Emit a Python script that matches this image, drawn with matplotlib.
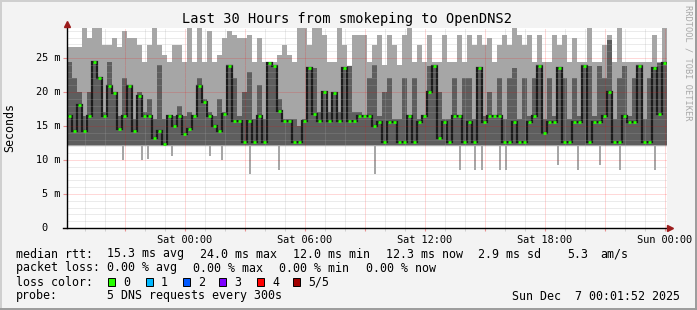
### SmokePing style latency chart - smokeping to OpenDNS2, last 30 hours

import numpy as np
import matplotlib
matplotlib.use('Agg')
import matplotlib.pyplot as plt
from matplotlib.patches import Rectangle

# steps of 15 min, hours relative to Sat 00:00
t_start = -5.9
step_h = 0.25

# smoke top (max of the 5 pings), ms
smoke_max = [26.6, 26.6, 26.6, 29.4, 27.9, 29.4, 29.4, 26.9, 26.9, 27.9, 26.6, 29.0, 27.9, 27.9, 26.9, 24.4, 26.9, 29.4, 26.9, 25.5,
             24.4, 26.9, 26.9, 24.4, 29.4, 24.4, 29.4, 24.4, 29.0, 24.4, 25.4, 27.9, 29.0, 28.4, 27.9, 27.9, 28.4, 24.4, 27.9, 24.4,
             24.4, 24.4, 25.4, 26.9, 25.4, 24.4, 29.4, 29.4, 26.9, 29.4, 29.4, 28.4, 24.4, 24.4, 29.4, 26.9, 23.8, 28.4, 28.4, 28.4,
             24.4, 26.9, 28.4, 24.0, 28.4, 26.9, 24.0, 28.4, 29.4, 24.4, 26.9, 24.4, 28.4, 24.4, 24.4, 28.4, 24.4, 24.4, 28.4, 24.4,
             28.4, 26.9, 28.4, 26.9, 27.9, 24.4, 26.9, 28.4, 26.9, 29.4, 28.4, 26.9, 28.4, 24.4, 28.4, 24.4, 24.4, 28.4, 26.9, 28.4,
             24.4, 27.9, 24.4, 24.4, 29.4, 24.4, 24.4, 26.9, 28.4, 24.4, 29.4, 24.4, 24.4, 24.4, 24.4, 24.4, 24.4, 28.4, 24.4, 29.4]
smoke_min = 12.0

# inner smoke (2nd..4th ping), ms
inner_top = [24.4, 22, 20, 16.4, 20, 24.4, 22, 17, 24.4, 20, 16.4, 22, 21, 16, 20, 17, 19, 16, 24, 16,
             16.4, 16.4, 18, 16.4, 17, 16.4, 22, 19, 17, 16.4, 19, 17, 23.8, 22, 16.4, 20, 23, 16, 21, 16,
             24.2, 23.8, 19, 16, 16, 16, 15, 16, 23.5, 23.5, 17, 20, 17, 19.9, 17, 23.5, 23.8, 17, 17, 16.4,
             22, 24, 16.4, 20, 22, 16, 16, 22, 16.4, 22, 16, 16.4, 23.8, 23.8, 20, 16, 16, 22, 16.4, 22,
             22, 16, 23.5, 16.4, 20, 16.4, 22, 16, 22, 23.5, 16, 22, 16.4, 22, 23.8, 16, 22, 16.4, 23.5, 22,
             16, 22, 16.4, 23.8, 23.8, 16.4, 23.8, 22, 27.6, 16, 22, 23.8, 16.4, 22, 23.8, 16, 22, 23.5, 24.2, 24.2]
inner_min = 12.2

# median rtt, ms
median = [16.4, 14.2, 18.1, 14.2, 16.4, 24.4, 22.0, 16.4, 20.9, 19.9, 14.6, 16.4, 20.9, 14.2, 19.4, 16.4, 16.4, 13.2, 14.2, 12.3,
          16.4, 15.0, 16.4, 13.8, 14.6, 16.4, 20.9, 18.6, 16.4, 15.0, 14.2, 16.8, 23.8, 15.8, 15.8, 12.6, 15.8, 12.6, 16.4, 12.6,
          24.2, 23.8, 17.2, 15.8, 15.8, 12.6, 12.6, 15.8, 23.5, 16.8, 15.8, 20.0, 15.8, 19.9, 15.8, 23.5, 15.8, 15.8, 16.4, 16.4,
          16.4, 15.0, 15.6, 12.6, 15.6, 15.6, 12.6, 12.6, 16.4, 12.6, 15.6, 16.4, 20.0, 23.8, 13.2, 15.6, 12.6, 16.4, 16.4, 12.6,
          15.6, 12.6, 23.5, 15.6, 16.4, 16.4, 16.4, 12.6, 12.6, 15.6, 12.6, 12.6, 15.6, 16.4, 23.8, 14.0, 15.6, 15.6, 23.5, 12.6,
          12.6, 15.6, 15.6, 23.8, 12.6, 15.6, 15.6, 16.4, 20.0, 12.6, 12.6, 16.4, 15.6, 15.6, 23.8, 12.6, 12.6, 23.5, 16.8, 24.2]

# short single pings below the smoke floor
dip_hours = [-3.1, -2.15, -1.85, -0.65, 1.25, 1.85, 3.25, 4.7, 9.5, 13.75, 14.5, 14.85, 15.75, 16.05, 18.65, 19.65, 20.75, 21.75, 23.5]
dip_ms = [10.0, 10.0, 10.2, 10.6, 10.6, 10.0, 8.0, 8.5, 8.0, 8.5, 8.5, 8.5, 8.5, 8.5, 9.3, 8.5, 9.2, 8.5, 8.6]

x_labels = ['Sat 00:00', 'Sat 06:00', 'Sat 12:00', 'Sat 18:00', 'Sun 00:00']
x_label_hours = [0, 6, 12, 18, 24]
y_ticks = [0, 5, 10, 15, 20, 25]
y_labels = ['0', '5 m', '10 m', '15 m', '20 m', '25 m']

loss_names = ['0', '1', '2', '3', '4', '5/5']
loss_colors = ['#26ff00', '#00b8ff', '#0059ff', '#7e00ff', '#ff0000', '#a10000']

W, H = 697, 310
mono = 'DejaVu Sans Mono'

def fx(px):
    return px / W

def fy(py):
    return 1 - py / H

fig = plt.figure(figsize=(W / 100, H / 100), dpi=100)
fig.patch.set_facecolor('#f3f3f3')
ax = fig.add_axes([fx(67), fy(228), 600 / W, 200 / H])
ax.set_facecolor('white')

edges = t_start + step_h * np.arange(len(median) + 1)
ax.stairs(smoke_max, edges, baseline=smoke_min, fill=True, color='#a6a6a6', lw=0, zorder=1)
ax.bar(dip_hours, np.array(smoke_min) - np.array(dip_ms), bottom=dip_ms, width=0.14,
       color='#a6a6a6', lw=0, zorder=1)
ax.stairs(inner_top, edges, baseline=inner_min, fill=True, color='#5e5e5e', lw=0, zorder=1.1)
ax.stairs(median, edges, baseline=None, color='#1c1c1c', lw=1.6, zorder=2)
ax.hlines(median, edges[:-1] + 0.05, edges[1:] - 0.05, color=loss_colors[0], lw=2, zorder=3)

ax.set_xlim(t_start, edges[-1])
ax.set_ylim(0, 200 / 6.8)
for s in ax.spines.values():
    s.set_visible(False)

# grid (rrdtool puts it over the graph)
ax.set_xticks(np.arange(-5, 25, 1), minor=True)
ax.set_yticks(np.arange(1, 30, 1), minor=True)
ax.set_xticks(np.arange(-3, 25, 3))
ax.set_xticklabels([x_labels[x_label_hours.index(h)] if h in x_label_hours else '' for h in range(-3, 25, 3)],
                   family=mono, fontsize=7.4)
ax.set_yticks(y_ticks)
ax.set_yticklabels([])
ax.set_axisbelow(False)
ax.grid(which='minor', color='#a8a8a8', lw=0.72, ls=(0, (1, 1)), alpha=0.45)
ax.grid(which='major', color='#ff0000', lw=0.72, ls=(0, (1, 1)), alpha=0.3)
ax.tick_params(axis='x', which='major', length=2, color='#e89090', pad=3)
ax.tick_params(axis='x', which='minor', length=2, color='#c8c8c8')
ax.tick_params(axis='y', which='major', length=3, color='#e89090')
ax.tick_params(axis='y', which='minor', length=0)

for v, lab in zip(y_ticks, y_labels):
    xoff = -7 / 600 if lab != '0' else -19 / 600
    ax.text(xoff, v, lab, transform=ax.get_yaxis_transform(), ha='right', va='center',
            family=mono, fontsize=7.4)

# axes with arrows
ax.plot([t_start - 0.2, 24.2], [0, 0], color='black', lw=1, clip_on=False, zorder=4)
ax.plot([t_start, t_start], [0, 29.9], color='black', lw=1, clip_on=False, zorder=4)
ax.plot([24.27], [0], marker='>', ms=4, color='#9c1c1c', clip_on=False, zorder=5)
ax.plot([t_start], [30.0], marker='^', ms=4, color='#9c1c1c', clip_on=False, zorder=5)

fig.text(fx(347.5), fy(19), 'Last 30 Hours from smokeping to OpenDNS2', ha='center', va='center',
         family=mono, fontsize=9.8)
fig.text(fx(10), fy(128), 'Seconds', rotation=90, ha='center', va='center', family=mono, fontsize=8.4)
fig.text(fx(688), fy(5), 'RRDTOOL / TOBI OETIKER', rotation=270, ha='center', va='top',
         family=mono, fontsize=6.2, color='#a8a8a8')

rows = [
    (254, [(16, 'median rtt:'), (107, '15.3 ms avg'), (200, '24.0 ms max'), (293, '12.0 ms min'),
           (386, '12.3 ms now'), (478, '2.9 ms sd'), (567, '5.3'), (600, 'am/s')]),
    (268, [(16, 'packet loss:'), (107, '0.00 % avg'), (193, '0.00 % max'), (279, '0.00 % min'),
           (366, '0.00 % now')]),
    (282, [(16, 'loss color:')]),
    (296, [(16, 'probe:'), (107, '5 DNS requests every 300s')]),
]
for y, parts in rows:
    for x, s in parts:
        fig.text(fx(x), fy(y), s, ha='left', va='center', family=mono, fontsize=8.4)
fig.text(fx(680), fy(296), 'Sun Dec  7 00:01:52 2025', ha='right', va='center', family=mono, fontsize=8.4)

box_x = [108, 146, 183, 219, 257, 293]
for bx, name, col in zip(box_x, loss_names, loss_colors):
    fig.patches.append(Rectangle((fx(bx), fy(286)), 7 / W, 8 / H, transform=fig.transFigure,
                                 facecolor=col, edgecolor='black', lw=0.7))
    fig.text(fx(bx + 15), fy(282), name, ha='left', va='center', family=mono, fontsize=8.4)

# 3d border
fig.add_artist(plt.Line2D([0, 1], [fy(1), fy(1)], transform=fig.transFigure, color='#cfcfcf', lw=1.4))
fig.add_artist(plt.Line2D([fx(1), fx(1)], [0, 1], transform=fig.transFigure, color='#cfcfcf', lw=1.4))
fig.add_artist(plt.Line2D([0, 1], [fy(309), fy(309)], transform=fig.transFigure, color='#9b9b9b', lw=1.4))
fig.add_artist(plt.Line2D([fx(696), fx(696)], [0, 1], transform=fig.transFigure, color='#9b9b9b', lw=1.4))

fig.savefig('out.png', dpi=100, facecolor=fig.get_facecolor())
